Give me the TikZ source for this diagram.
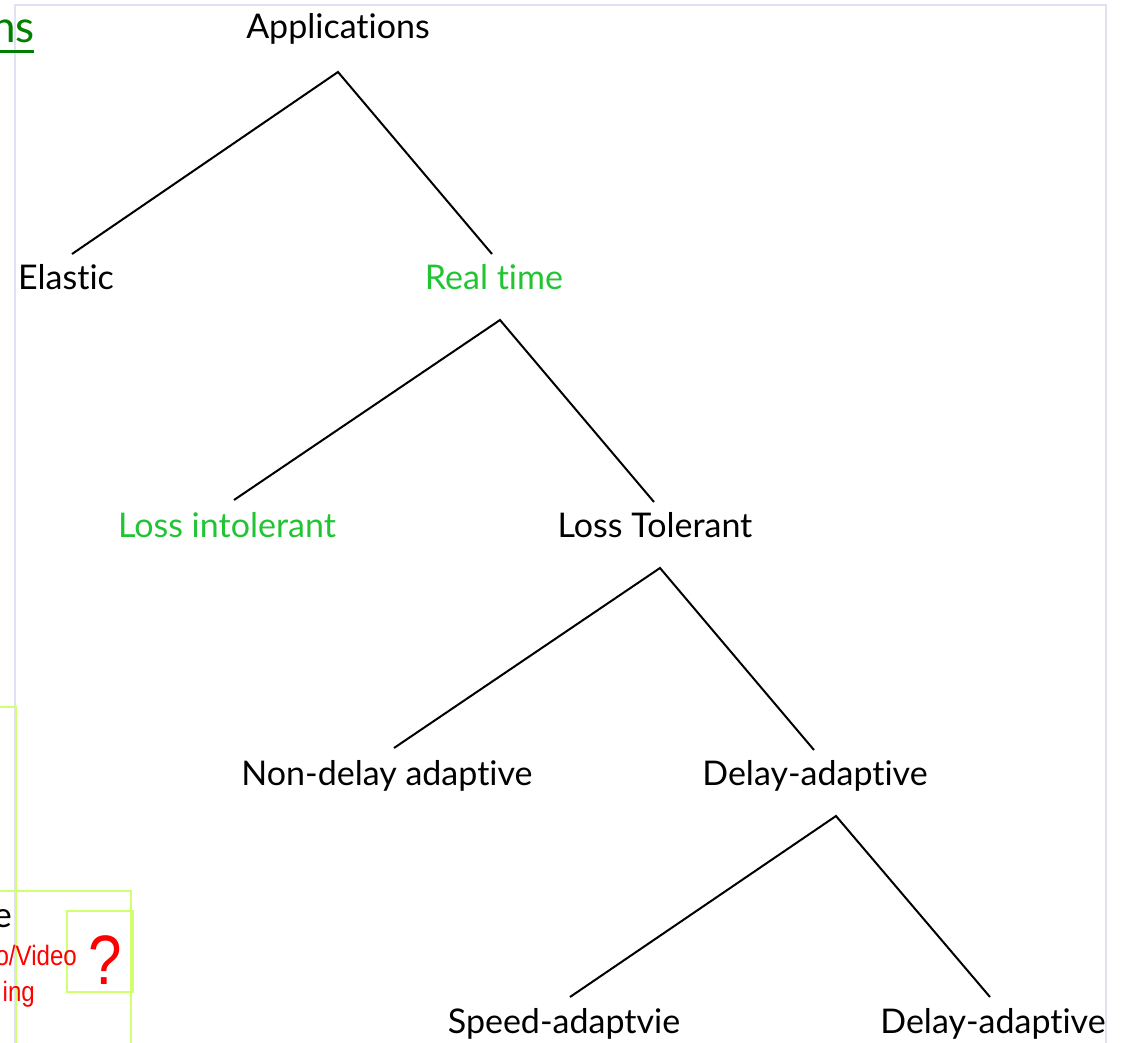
\documentclass[tikz,border=0pt]{standalone}
\usepackage{fontspec}
\setmainfont{Lato}[Ligatures=NoCommon]
\newfontfamily\narrowfont[FakeStretch=0.86]{Liberation Sans}
\definecolor{treegreen}{RGB}{34,196,52}
\definecolor{linkgreen}{RGB}{0,128,0}
\definecolor{framelav}{RGB}{222,226,242}
\definecolor{boxlime}{RGB}{208,255,112}
\tikzset{
  lbl/.style={font=\fontsize{34}{41}\selectfont, anchor=base, inner sep=0pt},
  hi/.style={lbl, text=treegreen},
  branch/.style={line width=2pt, black},
  frameline/.style={line width=2pt, draw=framelav},
  limebox/.style={line width=2pt, draw=boxlime},
  redtxt/.style={font=\narrowfont\fontsize{28}{32}\selectfont, text=red, anchor=base east, inner sep=0pt}
}
\begin{document}
\begin{tikzpicture}[x=1pt,y=-1pt]
\useasboundingbox (0,0) rectangle (1124,1043);
\clip (0,0) rectangle (1124,1043);

% slide frame
\draw[frameline] (15,1060) -- (15,5) -- (1106,5) -- (1106,1060);

% side boxes
\draw[limebox] (-10,707) -- (16,707) -- (16,1060);
\draw[limebox] (-10,891) -- (131,891) -- (131,1060);
\draw[limebox] (67,911) rectangle (133,992);

% side texts
\node[anchor=base east, inner sep=0pt, text=linkgreen, font=\fontsize{44}{50}\selectfont] (lnk) at (35,43) {ns};
\draw[linkgreen, line width=3pt] (0,52) -- (34,52);
\node[anchor=base east, inner sep=0pt, font=\fontsize{35}{40}\selectfont] (ee) at (12,927) {e};
\node[redtxt] (av) at (77,965) {o/Video};
\node[redtxt] (sm) at (35,1001) {ing};
\node[anchor=base, inner sep=0pt, text=red, font=\narrowfont\fontsize{70}{76}\selectfont] (qm) at (105,984) {?};

% tree labels
\node[lbl] (app) at (338,39) {Applications};
\node[lbl] (ela) at (66,289) {Elastic};
\node[hi]  (rt)  at (494,289) {Real time};
\node[hi]  (li)  at (227,537) {Loss intolerant};
\node[lbl] (lt)  at (655,537) {Loss Tolerant};
\node[lbl] (nda) at (387,785) {Non-delay adaptive};
\node[lbl] (da)  at (815,785) {Delay-adaptive};
\node[lbl] (sa)  at (564,1033) {Speed-adaptvie};
\node[lbl] (da2) at (993,1033) {Delay-adaptive};

% branch end points
\coordinate (app-b) at (338,72);
\coordinate (ela-t) at (72,254);
\coordinate (rt-t)  at (492,254);
\coordinate (rt-b)  at (500,320);
\coordinate (li-t)  at (234,500);
\coordinate (lt-t)  at (654,502);
\coordinate (lt-b)  at (660,568);
\coordinate (nda-t) at (394,748);
\coordinate (da-t)  at (814,750);
\coordinate (da-b)  at (836,816);
\coordinate (sa-t)  at (570,997);
\coordinate (da2-t) at (990,997);

\draw[branch] (ela-t) -- (app-b) -- (rt-t);
\draw[branch] (li-t) -- (rt-b) -- (lt-t);
\draw[branch] (nda-t) -- (lt-b) -- (da-t);
\draw[branch] (sa-t) -- (da-b) -- (da2-t);
\end{tikzpicture}
\end{document}
